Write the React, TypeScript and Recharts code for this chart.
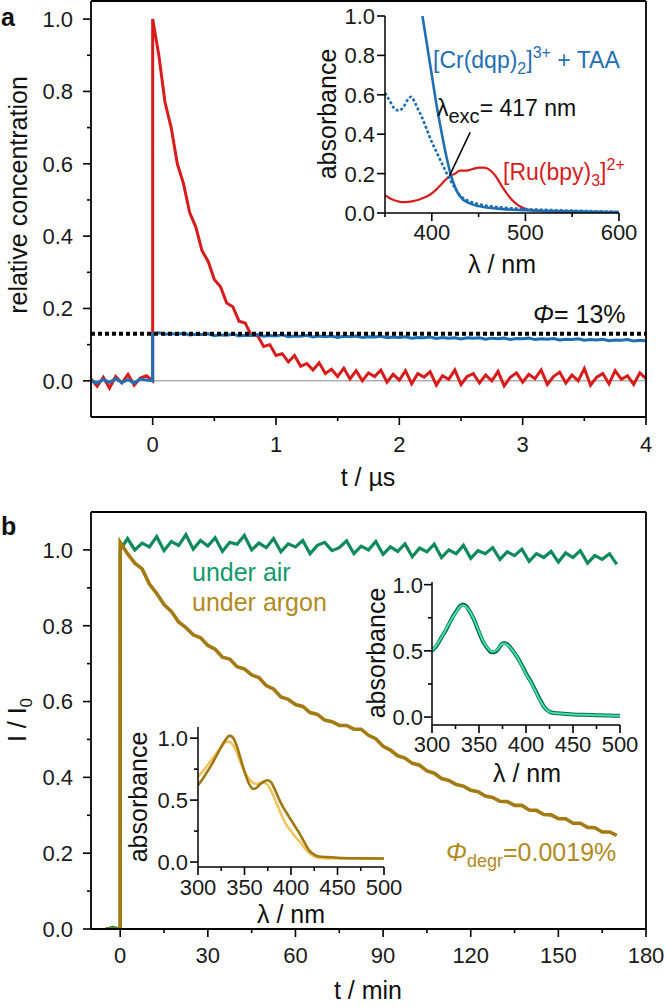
import { LineChart, Line, XAxis, YAxis, ReferenceLine } from "recharts"

// ---------- panel a: kinetics after the laser pulse (t / µs) ----------
const timeUs = [
  -0.5, -0.45, -0.4, -0.35, -0.3, -0.25, -0.2, -0.15, -0.1, -0.05, 0, 0,
  0.05, 0.1, 0.15, 0.2, 0.25, 0.3, 0.35, 0.4, 0.45, 0.5, 0.55, 0.6, 0.65, 0.7, 0.75, 0.8, 0.85, 0.9, 0.95, 1.0,
  1.05, 1.1, 1.15, 1.2, 1.25, 1.3, 1.35, 1.4, 1.45, 1.5, 1.55, 1.6, 1.65, 1.7, 1.75, 1.8, 1.85, 1.9, 1.95, 2.0,
  2.05, 2.1, 2.15, 2.2, 2.25, 2.3, 2.35, 2.4, 2.45, 2.5, 2.55, 2.6, 2.65, 2.7, 2.75, 2.8, 2.85, 2.9, 2.95, 3.0,
  3.05, 3.1, 3.15, 3.2, 3.25, 3.3, 3.35, 3.4, 3.45, 3.5, 3.55, 3.6, 3.65, 3.7, 3.75, 3.8, 3.85, 3.9, 3.95, 4.0,
]
const ruConc = [
  0.005, -0.015, 0.01, -0.02, 0.012, -0.006, 0.018, -0.012, 0.008, 0.014, 0, 1.0,
  0.9, 0.77, 0.7, 0.6, 0.545, 0.465, 0.425, 0.36, 0.33, 0.28, 0.26, 0.215, 0.205, 0.165, 0.16, 0.125, 0.125, 0.095, 0.1, 0.07,
  0.075, 0.052, 0.07, 0.04, 0.048, 0.03, 0.05, 0.02, 0.032, 0.012, 0.035, 0.005, 0.028, 0.0, 0.022, 0.012, 0.03, -0.004, 0.018, 0.002,
  0.028, -0.008, 0.02, 0.01, 0.025, -0.012, 0.014, 0.004, 0.03, -0.01, 0.012, 0.02, -0.006, 0.016, 0.0, 0.026, -0.014, 0.01, 0.022, -0.004,
  0.018, 0.006, 0.03, -0.01, 0.012, 0.024, -0.006, 0.016, 0.0, 0.034, -0.012, 0.01, 0.02, -0.008, 0.028, 0.004, 0.014, -0.01, 0.022, 0.006,
]
const crConc = [
  0.0, -0.006, 0.004, -0.004, 0.006, -0.005, 0.003, -0.006, 0.005, 0.002, 0, 0.13,
  0.133, 0.129, 0.131, 0.128, 0.132, 0.127, 0.129, 0.128, 0.13, 0.125, 0.127, 0.126, 0.129, 0.124, 0.126, 0.125, 0.128, 0.123, 0.125, 0.124,
  0.127, 0.122, 0.124, 0.123, 0.126, 0.121, 0.124, 0.122, 0.124, 0.12, 0.123, 0.122, 0.124, 0.12, 0.122, 0.121, 0.123, 0.119, 0.121, 0.12,
  0.122, 0.118, 0.12, 0.119, 0.121, 0.117, 0.12, 0.118, 0.119, 0.116, 0.119, 0.118, 0.119, 0.115, 0.118, 0.116, 0.118, 0.114, 0.117, 0.116,
  0.118, 0.114, 0.116, 0.115, 0.117, 0.113, 0.115, 0.114, 0.116, 0.112, 0.114, 0.113, 0.115, 0.111, 0.113, 0.112, 0.114, 0.11, 0.112, 0.111,
]
const quantumYield = 0.13

// ---------- panel a inset: absorption spectra ----------
const ruWl = [350, 355, 360, 365, 370, 375, 380, 385, 390, 395, 400, 405, 410, 415, 420, 425, 430, 435, 440, 445, 450, 455, 460, 465, 470, 475, 480, 485, 490, 495, 500, 510, 525, 550, 575, 600]
const ruAbs = [
  0.09, 0.075, 0.065, 0.058, 0.055, 0.056, 0.06, 0.066, 0.075, 0.085,
  0.1, 0.12, 0.145, 0.17, 0.19, 0.2, 0.215, 0.215, 0.218, 0.225,
  0.23, 0.23, 0.225, 0.205, 0.175, 0.135, 0.1, 0.07, 0.048, 0.032,
  0.022, 0.012, 0.008, 0.005, 0.004, 0.003,
]
const crDashWl = [350, 355, 360, 365, 370, 375, 378, 382, 386, 390, 395, 400, 405, 410, 415, 420, 425, 430, 440, 450, 470, 500, 550, 600]
const crDashAbs = [0.61, 0.57, 0.53, 0.52, 0.54, 0.58, 0.59, 0.56, 0.52, 0.48, 0.42, 0.36, 0.31, 0.26, 0.21, 0.165, 0.125, 0.09, 0.06, 0.045, 0.03, 0.02, 0.012, 0.006]
const crSolidWl = [390, 395, 400, 405, 410, 415, 420, 425, 430, 440, 450, 470, 500, 550, 600]
const crSolidAbs = [1.0, 0.85, 0.7, 0.55, 0.42, 0.3, 0.2, 0.13, 0.085, 0.05, 0.035, 0.022, 0.014, 0.008, 0.004]

// ---------- panel b: emission intensity vs irradiation time (t / min) ----------
const timeMin = [
  -5, -2.5, 0, 0,
  2.5, 5, 7.5, 10, 12.5, 15, 17.5, 20, 22.5, 25, 27.5, 30, 32.5, 35, 37.5, 40, 42.5, 45, 47.5, 50,
  52.5, 55, 57.5, 60, 62.5, 65, 67.5, 70, 72.5, 75, 77.5, 80, 82.5, 85, 87.5, 90, 92.5, 95, 97.5, 100,
  102.5, 105, 107.5, 110, 112.5, 115, 117.5, 120, 122.5, 125, 127.5, 130, 132.5, 135, 137.5, 140, 142.5, 145, 147.5, 150,
  152.5, 155, 157.5, 160, 162.5, 165, 167.5, 170,
]
const airI = [
  0.0, 0.004, 0.0, 1.0,
  1.03, 1.0, 1.018, 1.008, 1.035, 0.998, 1.022, 1.012, 1.04, 1.002, 1.025, 1.01, 1.032, 0.996, 1.02, 1.015, 1.038, 1.0, 1.018, 1.006,
  1.03, 0.995, 1.016, 1.008, 1.025, 0.99, 1.012, 1.02, 0.998, 1.006, 1.024, 0.99, 1.01, 1.0, 1.022, 0.988, 1.008, 0.996, 1.016, 0.982,
  1.005, 0.995, 1.015, 0.98, 1.0, 0.99, 1.012, 0.978, 0.998, 0.99, 1.006, 0.975, 0.995, 0.985, 1.002, 0.97, 0.99, 0.98, 0.996, 0.968,
  0.992, 0.98, 0.998, 0.965, 0.985, 0.975, 0.99, 0.962,
]
const argonI = [
  0.0, 0.0, 0.0, 1.02,
  0.99, 0.965, 0.95, 0.91, 0.885, 0.856, 0.838, 0.81, 0.795, 0.776, 0.768, 0.748, 0.738, 0.717, 0.712, 0.692, 0.686, 0.67, 0.663, 0.642,
  0.633, 0.612, 0.606, 0.592, 0.587, 0.571, 0.566, 0.551, 0.547, 0.537, 0.537, 0.527, 0.527, 0.511, 0.502, 0.482, 0.472, 0.457, 0.451, 0.437,
  0.432, 0.417, 0.411, 0.397, 0.392, 0.381, 0.377, 0.366, 0.362, 0.351, 0.347, 0.337, 0.336, 0.326, 0.326, 0.314, 0.313, 0.302, 0.301, 0.291,
  0.291, 0.279, 0.279, 0.268, 0.267, 0.256, 0.256, 0.247,
]

// ---------- panel b insets: spectra before / after irradiation ----------
const airWl = [300, 305, 310, 315, 320, 325, 330, 333, 336, 340, 345, 350, 355, 360, 363, 366, 370, 374, 377, 380, 385, 390, 395, 400, 405, 410, 415, 420, 425, 430, 440, 450, 460, 470, 480, 490, 500]
const airAbsBefore = [
  0.5, 0.54, 0.6, 0.66, 0.73, 0.79, 0.84, 0.85, 0.84, 0.8,
  0.73, 0.64, 0.56, 0.51, 0.49, 0.49, 0.51, 0.55, 0.56, 0.55,
  0.51, 0.46, 0.4, 0.33, 0.27, 0.2, 0.13, 0.07, 0.04, 0.03,
  0.025, 0.02, 0.017, 0.015, 0.013, 0.011, 0.01,
]
const airAbsAfter = [
  0.5, 0.545, 0.6, 0.665, 0.73, 0.785, 0.835, 0.845, 0.835, 0.8,
  0.73, 0.645, 0.565, 0.515, 0.495, 0.495, 0.515, 0.55, 0.555, 0.545,
  0.51, 0.46, 0.395, 0.325, 0.265, 0.195, 0.125, 0.07, 0.04, 0.03,
  0.025, 0.02, 0.017, 0.015, 0.013, 0.011, 0.01,
]
const argonWl = [300, 305, 310, 315, 320, 325, 330, 334, 338, 342, 346, 350, 355, 359, 363, 367, 371, 375, 379, 383, 387, 391, 395, 400, 405, 410, 415, 420, 425, 430, 440, 450, 475, 500]
const argonAbsBefore = [
  0.62, 0.67, 0.73, 0.79, 0.86, 0.93, 0.99, 1.02, 1.0, 0.93,
  0.83, 0.73, 0.63, 0.59, 0.6, 0.63, 0.65, 0.66, 0.64, 0.58,
  0.51, 0.45, 0.4, 0.34, 0.28, 0.22, 0.15, 0.09, 0.06, 0.045,
  0.04, 0.035, 0.03, 0.028,
]
const argonAbsAfter = [
  0.69, 0.73, 0.78, 0.83, 0.88, 0.93, 0.97, 0.97, 0.94, 0.88,
  0.8, 0.73, 0.67, 0.64, 0.63, 0.64, 0.64, 0.62, 0.57, 0.5,
  0.43, 0.36, 0.3, 0.25, 0.2, 0.16, 0.11, 0.07, 0.045, 0.035,
  0.03, 0.03, 0.028, 0.026,
]

const kineticsA = timeUs.map((t, i) => ({ t, ru: ruConc[i], cr: crConc[i] }))
const kineticsB = timeMin.map((t, i) => ({ t, air: airI[i], argon: argonI[i] }))
const zip = (xs: number[], ys: number[]) => xs.map((x, i) => ({ wl: x, a: ys[i] }))

const RED = "#d81c1c"
const BLUE = "#1f6fb5"
const GREEN = "#0f8a5b"
const GOLD = "#a47b12"
const PAD = 60
// axes get 1px of room (a 0px axis is not drawn), so margins are one less
const margin = { top: PAD, right: PAD, bottom: PAD - 1, left: PAD - 1 }

// place a chart so that its plot area lands on (l,t)-(r,b) of the page
function box(l: number, t: number, r: number, b: number) {
  return {
    style: { position: "absolute" as const, left: l - PAD, top: t - PAD },
    width: r - l + 2 * PAD,
    height: b - t + 2 * PAD,
  }
}

// ticks drawn by hand so minor ticks have no label
function axisTick(side: "left" | "bottom", majors: number[], digits: number, offset: number) {
  return (p: any) => {
    const v = p.payload.value
    const major = majors.some((m) => Math.abs(m - v) < 1e-6)
    const len = major ? 8 : 4
    if (side === "left") {
      return (
        <g>
          <line x1={p.x} y1={p.y} x2={p.x - len} y2={p.y} stroke="#000" strokeWidth={1.6} />
          {major ? (
            <text x={p.x - offset} y={p.y} dy="0.36em" textAnchor="end" fontSize={22} fill="#1a1a1a">
              {v.toFixed(digits)}
            </text>
          ) : null}
        </g>
      )
    }
    return (
      <g>
        <line x1={p.x} y1={p.y} x2={p.x} y2={p.y + len} stroke="#000" strokeWidth={1.6} />
        {major ? (
          <text x={p.x} y={p.y + offset} textAnchor="middle" fontSize={22} fill="#1a1a1a">
            {v.toFixed(digits)}
          </text>
        ) : null}
      </g>
    )
  }
}

const axisLine = { stroke: "#000", strokeWidth: 1.8 }
const insetAxisLine = { stroke: "#000", strokeWidth: 1.5 }
const xBase = { type: "number" as const, interval: 0, height: 1, tickSize: 0, tickMargin: 0, tickLine: false, allowDataOverflow: true }
const yBase = { type: "number" as const, interval: 0, width: 1, tickSize: 0, tickMargin: 0, tickLine: false, allowDataOverflow: true }

export default function App() {
  const mainA = box(91, 1, 646, 417)
  const insetA = box(385, 16, 619, 213)
  const mainB = box(91, 512, 646, 929)
  const insetB1 = box(432, 582, 620, 725)
  const insetB2 = box(198, 727, 384, 867)

  return (
    <div
      style={{
        position: "absolute",
        left: 0,
        top: 0,
        width: 666,
        height: 1007,
        overflow: "hidden",
        background: "#fff",
        fontFamily: "'Liberation Sans', Arial, sans-serif",
      }}
    >
      {/* panel a */}
      <div style={mainA.style}>
        <LineChart width={mainA.width} height={mainA.height} data={kineticsA} margin={margin}>
          <XAxis
            {...xBase}
            dataKey="t"
            domain={[-0.5, 4]}
            ticks={[0, 0.5, 1, 1.5, 2, 2.5, 3, 3.5, 4]}
            axisLine={axisLine}
            tick={axisTick("bottom", [0, 1, 2, 3, 4], 0, 35)}
          />
          <YAxis
            {...yBase}
            domain={[-0.1, 1.05]}
            ticks={[0, 0.1, 0.2, 0.3, 0.4, 0.5, 0.6, 0.7, 0.8, 0.9, 1.0]}
            axisLine={axisLine}
            tick={axisTick("left", [0, 0.2, 0.4, 0.6, 0.8, 1.0], 1, 18)}
          />
          <ReferenceLine y={0} stroke="#8a8a8a" strokeWidth={1} />
          <Line type="linear" dataKey="ru" stroke={RED} strokeWidth={3} dot={false} isAnimationActive={false} />
          <Line type="linear" dataKey="cr" stroke={BLUE} strokeWidth={3} dot={false} isAnimationActive={false} />
          <ReferenceLine y={quantumYield} stroke="#000" strokeWidth={4} strokeDasharray="4 3" />
          <ReferenceLine y={1.05} stroke="#000" strokeWidth={1.8} />
          <ReferenceLine x={4} stroke="#000" strokeWidth={1.8} />
        </LineChart>
      </div>

      <div style={insetA.style}>
        <LineChart width={insetA.width} height={insetA.height} margin={margin}>
          <XAxis
            {...xBase}
            dataKey="wl"
            domain={[350, 600]}
            ticks={[350, 400, 450, 500, 550, 600]}
            axisLine={insetAxisLine}
            tick={axisTick("bottom", [400, 500, 600], 0, 27)}
          />
          <YAxis
            {...yBase}
            domain={[0, 1]}
            ticks={[0, 0.2, 0.4, 0.6, 0.8, 1.0]}
            axisLine={insetAxisLine}
            tick={axisTick("left", [0, 0.2, 0.4, 0.6, 0.8, 1.0], 1, 10)}
          />
          <Line data={zip(ruWl, ruAbs)} dataKey="a" type="monotone" stroke={RED} strokeWidth={2.2} dot={false} isAnimationActive={false} />
          <Line data={zip(crDashWl, crDashAbs)} dataKey="a" type="monotone" stroke={BLUE} strokeWidth={2.6} strokeDasharray="3 2" dot={false} isAnimationActive={false} />
          <Line data={zip(crSolidWl, crSolidAbs)} dataKey="a" type="monotone" stroke={BLUE} strokeWidth={2.6} dot={false} isAnimationActive={false} />
          <ReferenceLine segment={[{ x: 441, y: 0.41 }, { x: 419, y: 0.19 }]} stroke="#000" strokeWidth={1.6} />
        </LineChart>
      </div>

      {/* panel b */}
      <div style={mainB.style}>
        <LineChart width={mainB.width} height={mainB.height} data={kineticsB} margin={margin}>
          <XAxis
            {...xBase}
            dataKey="t"
            domain={[-10, 180]}
            ticks={[0, 15, 30, 45, 60, 75, 90, 105, 120, 135, 150, 165, 180]}
            axisLine={axisLine}
            tick={axisTick("bottom", [0, 30, 60, 90, 120, 150, 180], 0, 34)}
          />
          <YAxis
            {...yBase}
            domain={[0, 1.1]}
            ticks={[0, 0.1, 0.2, 0.3, 0.4, 0.5, 0.6, 0.7, 0.8, 0.9, 1.0]}
            axisLine={axisLine}
            tick={axisTick("left", [0, 0.2, 0.4, 0.6, 0.8, 1.0], 1, 18)}
          />
          <Line type="linear" dataKey="air" stroke={GREEN} strokeWidth={3.2} dot={false} isAnimationActive={false} />
          <Line type="linear" dataKey="argon" stroke={GOLD} strokeWidth={3.6} dot={false} isAnimationActive={false} />
          <ReferenceLine y={1.1} stroke="#000" strokeWidth={1.8} />
          <ReferenceLine x={180} stroke="#000" strokeWidth={1.8} />
        </LineChart>
      </div>

      <div style={insetB1.style}>
        <LineChart width={insetB1.width} height={insetB1.height} margin={margin}>
          <XAxis
            {...xBase}
            dataKey="wl"
            domain={[300, 500]}
            ticks={[300, 325, 350, 375, 400, 425, 450, 475, 500]}
            axisLine={insetAxisLine}
            tick={axisTick("bottom", [300, 350, 400, 450, 500], 0, 27)}
          />
          <YAxis
            {...yBase}
            domain={[-0.06, 1.02]}
            ticks={[0, 0.25, 0.5, 0.75, 1.0]}
            axisLine={insetAxisLine}
            tick={axisTick("left", [0, 0.5, 1.0], 1, 9)}
          />
          <Line data={zip(airWl, airAbsBefore)} dataKey="a" type="monotone" stroke="#0d6a47" strokeWidth={4} dot={false} isAnimationActive={false} />
          <Line data={zip(airWl, airAbsAfter)} dataKey="a" type="monotone" stroke="#3fe3ad" strokeWidth={2} dot={false} isAnimationActive={false} />
        </LineChart>
      </div>

      <div style={insetB2.style}>
        <LineChart width={insetB2.width} height={insetB2.height} margin={margin}>
          <XAxis
            {...xBase}
            dataKey="wl"
            domain={[300, 500]}
            ticks={[300, 325, 350, 375, 400, 425, 450, 475, 500]}
            axisLine={insetAxisLine}
            tick={axisTick("bottom", [300, 350, 400, 450, 500], 0, 28)}
          />
          <YAxis
            {...yBase}
            domain={[-0.04, 1.09]}
            ticks={[0, 0.25, 0.5, 0.75, 1.0]}
            axisLine={insetAxisLine}
            tick={axisTick("left", [0, 0.5, 1.0], 1, 10)}
          />
          <Line data={zip(argonWl, argonAbsAfter)} dataKey="a" type="monotone" stroke="#f2c35e" strokeWidth={2.6} dot={false} isAnimationActive={false} />
          <Line data={zip(argonWl, argonAbsBefore)} dataKey="a" type="monotone" stroke="#a07810" strokeWidth={2.6} dot={false} isAnimationActive={false} />
        </LineChart>
      </div>

      {/* labels and annotations */}
      <svg width={666} height={1007} style={{ position: "absolute", left: 0, top: 0, pointerEvents: "none" }}>
        <g fontSize={25} fill="#111" style={{ whiteSpace: "pre" }}>
          <text x={1} y={26} fontWeight="bold">a</text>
          <text transform="translate(27,195) rotate(-90)" textAnchor="middle">relative concentration</text>
          <text x={368} y={486} textAnchor="middle">t / µs</text>
          <text transform="translate(336,114) rotate(-90)" textAnchor="middle">absorbance</text>
          <text x={502} y={273} textAnchor="middle">λ / nm</text>
          <text x={533} y={323}>
            <tspan fontStyle="italic">Φ</tspan>= 13%
          </text>
          <text x={433} y={68} fill={BLUE} fontSize={23}>
            [Cr(dqp)<tspan dy={6} fontSize={16}>2</tspan>
            <tspan dy={-6}>]</tspan>
            <tspan dy={-10} fontSize={16}>3+</tspan>
            <tspan dy={10}> + TAA</tspan>
          </text>
          <text x={437} y={116} fontSize={23}>
            λ<tspan dy={7} fontSize={20}>exc</tspan>
            <tspan dy={-7}>= 417 nm</tspan>
          </text>
          <text x={503} y={180} fill={RED} fontSize={23}>
            [Ru(bpy)<tspan dy={6} fontSize={16}>3</tspan>
            <tspan dy={-6}>]</tspan>
            <tspan dy={-10} fontSize={16}>2+</tspan>
          </text>

          <text x={1} y={535} fontWeight="bold">b</text>
          <text transform="translate(26,720) rotate(-90)" textAnchor="middle">
            I / I<tspan dy={6} fontSize={17}>0</tspan>
          </text>
          <text x={368} y={999} textAnchor="middle">t / min</text>
          <text x={192} y={581} fill="#13996a">under air</text>
          <text x={192} y={611} fill="#b38a1c">under argon</text>
          <text transform="translate(385,653) rotate(-90)" textAnchor="middle">absorbance</text>
          <text x={527} y={782} textAnchor="middle">λ / nm</text>
          <text transform="translate(147,797) rotate(-90)" textAnchor="middle">absorbance</text>
          <text x={291} y={923} textAnchor="middle">λ / nm</text>
          <text x={446} y={861} fill="#b38a1c">
            <tspan fontStyle="italic">Φ</tspan>
            <tspan dy={6} fontSize={18}>degr</tspan>
            <tspan dy={-6}>=0.0019%</tspan>
          </text>
        </g>
      </svg>
    </div>
  )
}
